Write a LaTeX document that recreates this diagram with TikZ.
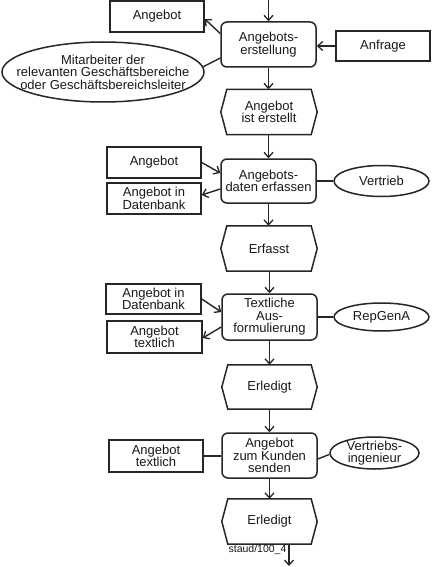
\documentclass[tikz,border=0pt]{standalone}
\usepackage{fontspec}
\setmainfont{Liberation Sans}
\usetikzlibrary{arrows.meta,shapes.geometric}
\newcommand\evshape[1]{\draw[boxline] ([xshift=6pt]#1.north west) -- ([xshift=-6pt]#1.north east) -- (#1.east) -- ([xshift=-6pt]#1.south east) -- ([xshift=6pt]#1.south west) -- (#1.west) -- cycle;}
\tikzset{
  boxline/.style={line width=1.5pt, draw=black!85},
  txt/.style={font=\fontsize{13}{12.5}\selectfont, align=center, text=black!90},
  func/.style={boxline, txt, draw, rounded corners=6pt, minimum width=95pt, minimum height=45pt, inner sep=0pt},
  obj/.style={boxline, txt, draw, minimum width=94pt, minimum height=31pt, inner sep=0pt},
  event/.style={txt, minimum width=96pt, minimum height=45pt, inner sep=0pt},
  orgell/.style={boxline, draw, ellipse, inner sep=0pt},
  elltext/.style={label={[txt]center:#1}},
  conn/.style={line width=1.4pt, draw=black!85},
  arr/.style={conn, -{Straight Barb[length=5pt,width=9pt,line width=1.3pt]}},
}
\begin{document}
\begin{tikzpicture}[x=1pt,y=-1pt]
\useasboundingbox[fill=white] (0,0) rectangle (431,567);

% --- block 1
\node[func] (f1) at (268.5,44.5) {Angebots-\\erstellung};
\node[obj] (a1) at (157,16.5) {Angebot};
\node[obj, minimum height=30pt] (anf) at (383,46) {Anfrage};
\node[orgell, minimum width=202pt, minimum height=60pt,
  elltext={Mitarbeiter der\\relevanten Geschäftsbereiche\\oder Geschäftsbereichsleiter}] (ell1) at (103,72) {};
\coordinate (top) at (268.5,0);
\draw[arr] (top) -- (f1.north);
\draw[arr] ([yshift=11pt]f1.west) -- ([yshift=-2.5pt]a1.east);
\draw[arr] (anf.west) -- (anf.west -| f1.east);
\draw[conn] (ell1.3) -- ([yshift=-13.5pt]f1.west);

% --- event 1
\node[event] (e1) at (269,112) {Angebot\\ist erstellt};
\evshape{e1}
\draw[arr] (f1.south) -- (f1.south |- e1.north);

% --- block 2
\node[func, minimum height=44pt] (f2) at (268.5,181) {Angebots-\\daten erfassen};
\node[obj] (a2) at (154,162.5) {Angebot};
\node[obj] (db1) at (154,198.5) {Angebot in\\Datenbank};
\node[orgell, minimum width=95pt, minimum height=31pt, elltext={Vertrieb}] (v) at (381.5,181) {};
\draw[arr] (e1.south -| f2.north) -- (f2.north);
\draw[arr] (a2.east) -- ([yshift=8pt]f2.west);
\draw[arr] ([yshift=-8pt]f2.west) -- ([yshift=3.5pt]db1.east);
\draw[conn] (f2.east) -- (v.west);

% --- event 2
\node[event] (e2) at (269,248.5) {Erfasst};
\evshape{e2}
\draw[arr] (f2.south) -- (f2.south |- e2.north);

% --- block 3
\node[func, minimum height=46pt] (f3) at (269.5,317) {Textliche\\Aus-\\formulierung};
\node[obj, minimum width=95pt, minimum height=30pt] (db2) at (153.5,299) {Angebot in\\Datenbank};
\node[obj, minimum width=95pt, minimum height=32pt] (t1) at (154.5,337) {Angebot\\textlich};
\node[orgell, minimum width=95pt, minimum height=28pt, elltext={RepGenA}] (r) at (381.5,317) {};
\draw[arr] (e2.south -| f3.north) -- (f3.north);
\draw[arr] (db2.east) -- ([yshift=5pt]f3.west);
\draw[arr] ([yshift=-10pt]f3.west) -- ([yshift=-1pt]t1.east);
\draw[conn] (f3.east) -- (r.west);

% --- event 3
\node[event, minimum width=95pt, minimum height=44pt] (e3) at (269.5,387) {Erledigt};
\evshape{e3}
\draw[arr] (f3.south) -- (f3.south |- e3.north);

% --- block 4
\node[func] (f4) at (269.5,455.5) {Angebot\\zum Kunden\\senden};
\node[obj, minimum height=32pt] (t2) at (156,456) {Angebot\\textlich};
\node[orgell, minimum width=89pt, minimum height=32pt, elltext={Vertriebs-\\ingenieur}] (vi) at (374.5,453) {};
\draw[arr] (e3.south) -- (e3.south |- f4.north);
\draw[conn] (t2.east) -- (t2.east -| f4.west);
\draw[conn] ([yshift=-3.5pt]f4.east) -- ([yshift=-1.5pt]vi.west);

% --- event 4
\node[event, minimum width=95pt] (e4) at (269.5,521.5) {Erledigt};
\evshape{e4}
\draw[arr] (f4.south) -- (f4.south |- e4.north);
\coordinate (bot) at (289,566);
\draw[arr] (e4.south -| bot) -- (bot);
\node[font=\fontsize{10.5}{11}\selectfont, text=black!90, inner sep=0pt] (lab) at (257.5,549.5) {staud/100\_4};
\end{tikzpicture}
\end{document}
